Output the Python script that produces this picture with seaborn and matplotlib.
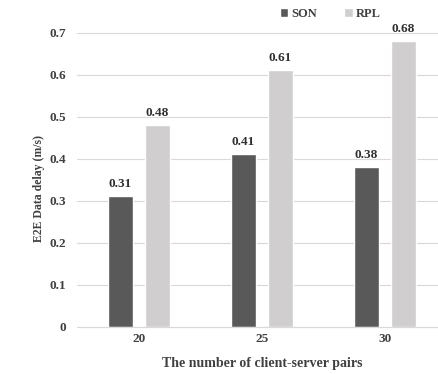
import matplotlib
matplotlib.use("Agg")
import matplotlib.pyplot as plt
import seaborn as sns
import pandas as pd
from matplotlib.patches import Patch

pairs = ["20", "25", "30"]
son = [0.31, 0.41, 0.38]
rpl = [0.48, 0.61, 0.68]
series = ["SON", "RPL"]
yticks = [0, 0.1, 0.2, 0.3, 0.4, 0.5, 0.6, 0.7]

df = pd.DataFrame({
    "pairs": pairs * 2,
    "delay": son + rpl,
    "protocol": [series[0]] * len(pairs) + [series[1]] * len(pairs),
})

sns.set_theme(style="white")
plt.rcParams["font.family"] = ["Liberation Serif", "DejaVu Serif"]
plt.rcParams["font.weight"] = "bold"

colors = {"SON": "#595959", "RPL": "#d0cece"}
text_color = "#404040"

fig = plt.figure(figsize=(4.38, 3.74), dpi=100)
ax = fig.add_axes([77.4 / 438, (374 - 326.5) / 374, 369 / 438, (326.5 - 32.7) / 374])

sns.barplot(data=df, x="pairs", y="delay", hue="protocol", order=pairs,
            hue_order=series, palette=colors, width=0.6, gap=0.333,
            saturation=1, legend=False, ax=ax)

ax.set_ylim(0, 0.7)
ax.set_xlim(-0.5, 2.5)
ax.set_yticks(yticks)
ax.set_yticklabels(["0"] + [f"{v:.1f}" for v in yticks[1:]])
ax.yaxis.grid(True, color="#d9d9d9", linewidth=0.8)
ax.set_axisbelow(True)
for gl in ax.get_ygridlines():
    gl.set_clip_on(False)
for s in ["top", "right", "left"]:
    ax.spines[s].set_visible(False)
ax.spines["bottom"].set_color("#d9d9d9")
ax.spines["bottom"].set_linewidth(0.8)
ax.tick_params(axis="x", length=0, labelsize=9.5, colors=text_color, pad=5)
ax.tick_params(axis="y", length=0, labelsize=9.5, colors=text_color, pad=8)
for lab in ax.get_xticklabels() + ax.get_yticklabels():
    lab.set_fontweight("bold")

ax.set_xlabel("The number of client-server pairs", fontsize=10, fontweight="bold",
              color=text_color, labelpad=8)
ax.set_ylabel("E2E Data delay (m/s)", fontsize=8.5, fontweight="bold",
              color=text_color)
ax.yaxis.set_label_coords(-0.088, 0.47)

for cont in ax.containers:
    ax.bar_label(cont, fmt="%.2f", padding=4.5, fontsize=9.5, fontweight="bold",
                 color="#303030")

handles = [Patch(facecolor=colors[s], label=s) for s in series]
fig.legend(handles=handles, loc="center", bbox_to_anchor=(330 / 438, 1 - 14 / 374),
           ncol=2, frameon=False, fontsize=9, handlelength=0.7, handleheight=0.7,
           handletextpad=0.2, columnspacing=2.2, labelcolor=text_color)

fig.savefig("out.png", dpi=100)
